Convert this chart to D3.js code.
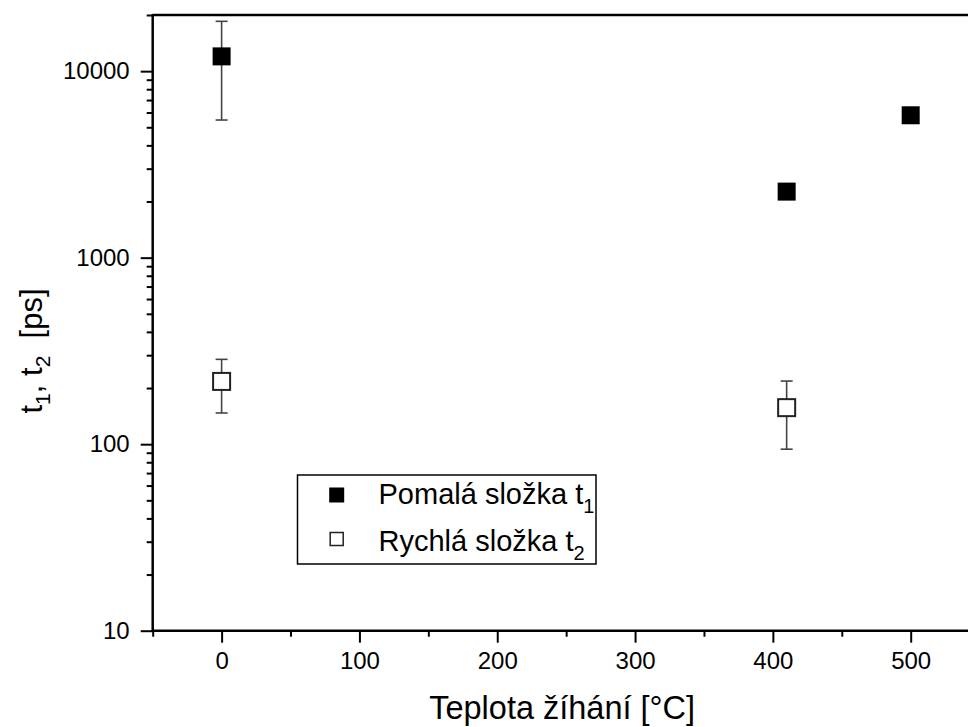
<!DOCTYPE html>
<html>
<head>
<meta charset="utf-8">
<script src="https://cdn.jsdelivr.net/npm/d3@7"></script>
<style>
  html, body { margin: 0; padding: 0; background: #fff; }
  svg { display: block; }
  text { font-family: "Liberation Sans", Arial, sans-serif; fill: #000; }
</style>
</head>
<body>
<svg id="chart" width="968" height="727"></svg>
<script>
// Annealing temperature (°C)
const slowTemps = [0, 410, 500];
const fastTemps = [0, 410];
// Slow component t1 (ps) with error range
const slowValues = [12000, 2260, 5800];
const slowErrLow = [5470, null, null];
const slowErrHigh = [18500, null, null];
// Fast component t2 (ps) with error range
const fastValues = [217, 157];
const fastErrLow = [147, 94];
const fastErrHigh = [285, 218];
// Axis ticks
const xMajorTicks = [0, 100, 200, 300, 400, 500];
const xMinorTicks = [-50, 50, 150, 250, 350, 450, 550];
const yMajorTicks = [10, 100, 1000, 10000];
const legendLabels = [["Pomalá složka t", "1"], ["Rychlá složka t", "2"]];

const svg = d3.select("#chart");
const plotLeft = 152.7, plotRight = 979.6, plotTop = 15, plotBottom = 630.7;

const x = d3.scaleLinear().domain([-50, 550]).range([plotLeft, plotRight]);
const y = d3.scaleLog().domain([10, 20000]).range([plotBottom, plotTop]);

const yMinorTicks = y.ticks().filter(v => !yMajorTicks.includes(v));

// Y axis (left)
const yAxis = svg.append("g").attr("transform", `translate(${plotLeft},0)`);
yAxis.call(d3.axisLeft(y).tickValues(yMajorTicks).tickSize(12).tickPadding(11)
  .tickFormat(d3.format("d")));
yAxis.append("g").call(d3.axisLeft(y).tickValues(yMinorTicks).tickSize(6).tickFormat(""));
yAxis.selectAll(".domain").remove();
yAxis.selectAll("line").attr("stroke", "#000").attr("stroke-width", 2);
yAxis.selectAll("text").style("font-size", "24px").attr("fill", "#000");

// X axis (bottom)
const xAxis = svg.append("g").attr("transform", `translate(0,${plotBottom})`);
xAxis.call(d3.axisBottom(x).tickValues(xMajorTicks).tickSize(12).tickPadding(9)
  .tickFormat(d3.format("d")));
xAxis.append("g").call(d3.axisBottom(x).tickValues(xMinorTicks).tickSize(6).tickFormat(""));
xAxis.selectAll(".domain").remove();
xAxis.selectAll("line").attr("stroke", "#000").attr("stroke-width", 2);
xAxis.selectAll("text").style("font-size", "24px").attr("fill", "#000");

// Frame lines
const frame = svg.append("g").attr("stroke", "#000").attr("stroke-width", 2.5);
frame.append("line").attr("x1", plotLeft).attr("x2", plotLeft).attr("y1", plotTop - 1).attr("y2", plotBottom + 1);
frame.append("line").attr("x1", plotLeft).attr("x2", plotRight).attr("y1", plotBottom).attr("y2", plotBottom);
frame.append("line").attr("x1", plotLeft).attr("x2", plotRight).attr("y1", plotTop).attr("y2", plotTop);
frame.append("line").attr("x1", plotRight).attr("x2", plotRight).attr("y1", plotTop).attr("y2", plotBottom);

// Error bars
function errorBars(temps, lows, highs) {
  const g = svg.append("g").attr("stroke", "#444").attr("stroke-width", 1.6);
  temps.forEach((t, i) => {
    if (lows[i] == null) return;
    const cx = x(t);
    g.append("line").attr("x1", cx).attr("x2", cx).attr("y1", y(lows[i])).attr("y2", y(highs[i]));
    g.append("line").attr("x1", cx - 6).attr("x2", cx + 6).attr("y1", y(lows[i])).attr("y2", y(lows[i]));
    g.append("line").attr("x1", cx - 6).attr("x2", cx + 6).attr("y1", y(highs[i])).attr("y2", y(highs[i]));
  });
}
errorBars(slowTemps, slowErrLow, slowErrHigh);
errorBars(fastTemps, fastErrLow, fastErrHigh);

// Slow component: filled squares
const sFill = 18;
svg.append("g").selectAll("rect").data(slowTemps.map((t, i) => [t, slowValues[i]])).join("rect")
  .attr("x", d => x(d[0]) - sFill / 2).attr("y", d => y(d[1]) - sFill / 2)
  .attr("width", sFill).attr("height", sFill).attr("fill", "#000");

// Fast component: open squares
const sOpen = 17;
svg.append("g").selectAll("rect").data(fastTemps.map((t, i) => [t, fastValues[i]])).join("rect")
  .attr("x", d => x(d[0]) - sOpen / 2).attr("y", d => y(d[1]) - sOpen / 2)
  .attr("width", sOpen).attr("height", sOpen)
  .attr("fill", "#fff").attr("stroke", "#222").attr("stroke-width", 2);

// Legend
const lg = svg.append("g");
lg.append("rect").attr("x", 297.5).attr("y", 475).attr("width", 298.5).attr("height", 89)
  .attr("fill", "#fff").attr("stroke", "#000").attr("stroke-width", 1.5);
lg.append("rect").attr("x", 336.7 - 7.5).attr("y", 495 - 7.5).attr("width", 15).attr("height", 15)
  .attr("fill", "#000");
lg.append("rect").attr("x", 336.7 - 6.5).attr("y", 539 - 6.5).attr("width", 13).attr("height", 13)
  .attr("fill", "#fff").attr("stroke", "#222").attr("stroke-width", 1.5);
const legendBaselines = [503.5, 550.5];
legendLabels.forEach((lab, i) => {
  const t = lg.append("text").attr("x", 378.5).attr("y", legendBaselines[i]).style("font-size", "29px");
  t.append("tspan").text(lab[0]);
  t.append("tspan").attr("dy", 9).style("font-size", "20px").text(lab[1]);
});

// Axis titles
svg.append("text").attr("x", (plotLeft + plotRight) / 2 - 4).attr("y", 719)
  .attr("text-anchor", "middle").style("font-size", "32.5px").text("Teplota žíhání [°C]");

const yt = svg.append("text").attr("transform", "translate(42,351) rotate(-90)")
  .attr("text-anchor", "middle").style("font-size", "31px");
yt.append("tspan").text("t");
yt.append("tspan").attr("dy", 8).style("font-size", "21px").text("1");
yt.append("tspan").attr("dy", -8).text(", t");
yt.append("tspan").attr("dy", 8).style("font-size", "21px").text("2");
yt.append("tspan").attr("dy", -8).text("\u00a0 [ps]");
</script>
</body>
</html>
